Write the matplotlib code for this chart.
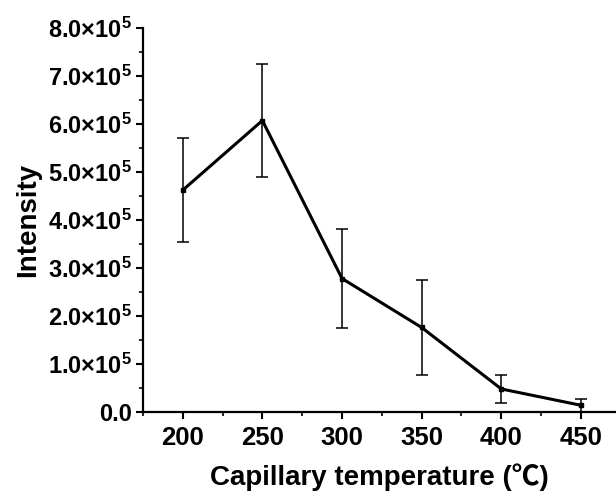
import matplotlib
matplotlib.use('Agg')
import matplotlib.pyplot as plt
from matplotlib.ticker import MultipleLocator

# data
temperature = [200, 250, 300, 350, 400, 450]
intensity = [4.62e5, 6.07e5, 2.78e5, 1.76e5, 0.48e5, 0.14e5]
error = [1.08e5, 1.17e5, 1.04e5, 0.99e5, 0.30e5, 0.13e5]

xticks = [200, 250, 300, 350, 400, 450]
yticks = [0, 1e5, 2e5, 3e5, 4e5, 5e5, 6e5, 7e5, 8e5]
ytick_labels = ['0.0'] + [r'$\mathbf{%d.0{\times}10^5}$' % i for i in range(1, 9)]

plt.rcParams['font.family'] = ['Liberation Sans', 'Noto Sans CJK SC']
plt.rcParams['font.weight'] = 'bold'
plt.rcParams['mathtext.fontset'] = 'custom'
plt.rcParams['mathtext.rm'] = 'Liberation Sans:bold'
plt.rcParams['mathtext.bf'] = 'Liberation Sans:bold'

fig = plt.figure(figsize=(6.16, 4.97), dpi=100)
ax = fig.add_axes([0.232, 0.171, 0.768, 0.773])

ax.errorbar(temperature, intensity, yerr=error, color='black', lw=2.2,
            marker='s', markersize=3, ecolor='black', elinewidth=1.1,
            capsize=4, capthick=1.1)

ax.set_xlim(175, 472)
ax.set_ylim(0, 8e5)
ax.set_xticks(xticks)
ax.set_xticklabels([str(t) for t in xticks])
ax.set_yticks(yticks)
ax.set_yticklabels(ytick_labels)
ax.xaxis.set_minor_locator(MultipleLocator(25))
ax.yaxis.set_minor_locator(MultipleLocator(0.5e5))

for s in ['top', 'right']:
    ax.spines[s].set_visible(False)
for s in ['left', 'bottom']:
    ax.spines[s].set_linewidth(1.6)

ax.tick_params(which='major', direction='out', length=5, width=1.5, labelsize=17, pad=3)
ax.tick_params(axis='x', which='major', labelsize=18.5, pad=5)
ax.tick_params(which='minor', direction='out', length=3, width=1.2)

ax.set_xlabel('Capillary temperature (℃)', fontsize=20, fontweight='bold', labelpad=10)
ax.set_ylabel('Intensity', fontsize=20, fontweight='bold', labelpad=5)

fig.savefig('out.png', dpi=100, facecolor='white')
